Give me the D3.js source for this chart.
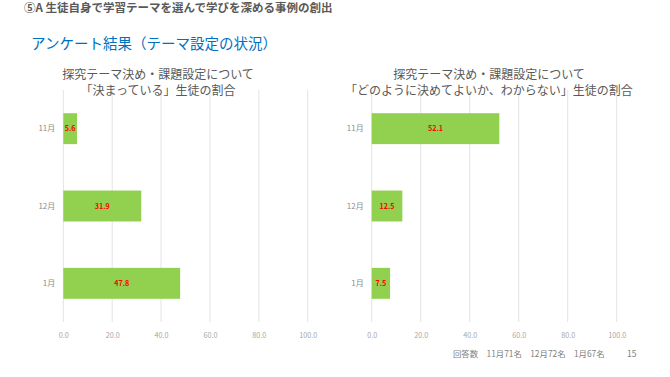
<!DOCTYPE html>
<html><head><meta charset="utf-8">
<script src="https://cdn.jsdelivr.net/npm/d3@7"></script>
<style>
body{margin:0;background:#fff;}
text{font-family:"Noto Sans CJK JP","Noto Sans",sans-serif;}
</style></head>
<body>
<svg id="c" width="670" height="377"></svg>
<script>
const categories = ["11月","12月","1月"];
const decidedValues = [5.6, 31.9, 47.8];
const unsureValues = [52.1, 12.5, 7.5];
const xTicks = [0, 20, 40, 60, 80, 100];
const headerText = "⑤A 生徒自身で学習テーマを選んで学びを深める事例の創出";
const subtitleText = "アンケート結果（テーマ設定の状況）";
const leftTitle = ["探究テーマ決め・課題設定について", "「決まっている」生徒の割合"];
const rightTitle = ["探究テーマ決め・課題設定について", "「どのように決めてよいか、わからない」生徒の割合"];
const footerText = "回答数　11月71名　12月72名　1月67名";
const pageNo = "15";

const svg = d3.select("#c");

svg.append("text").attr("x", 24).attr("y", 12).attr("font-size", 11.5).attr("font-weight", "bold")
  .attr("fill", "#595959").text(headerText);
svg.append("text").attr("x", 31).attr("y", 49).attr("font-size", 14.5)
  .attr("fill", "#0070C0").text(subtitleText);

function panel(x0, x1, titleCx, titleLines, values) {
  const y0 = 90, y1 = 322;
  const x = d3.scaleLinear().domain([0, 100]).range([x0, x1]);
  const y = d3.scaleBand().domain(categories).range([y0, y1]).paddingInner(0.6).paddingOuter(0.3);
  const g = svg.append("g");
  g.selectAll("line.grid").data(xTicks).join("line")
    .attr("x1", d => x(d)).attr("x2", d => x(d)).attr("y1", y0).attr("y2", y1)
    .attr("stroke", "#e3e3e3").attr("stroke-width", 1);
  titleLines.forEach((t, i) => {
    g.append("text").attr("x", titleCx).attr("y", 79 + i * 16).attr("text-anchor", "middle")
      .attr("font-size", 12).attr("fill", "#595959").text(t);
  });
  g.selectAll("rect").data(values).join("rect")
    .attr("x", x(0)).attr("y", (d, i) => y(categories[i]))
    .attr("width", d => x(d) - x(0)).attr("height", y.bandwidth())
    .attr("fill", "#92D050");
  g.selectAll("text.val").data(values).join("text").attr("class", "val")
    .attr("x", d => (x(0) + x(d)) / 2).attr("y", (d, i) => y(categories[i]) + y.bandwidth() / 2 + 2.5)
    .attr("text-anchor", "middle").attr("font-size", 7.2).attr("fill", "#FF0000")
    .attr("font-family", "DejaVu Sans Mono").attr("font-weight", "bold")
    .text(d => d.toFixed(1));
  const xa = g.append("g").attr("transform", `translate(0,${y1 + 3})`)
    .call(d3.axisBottom(x).tickValues(xTicks).tickFormat(d3.format(".1f")).tickSize(0).tickPadding(8));
  xa.select(".domain").remove();
  xa.selectAll("text").attr("font-size", 7.2).attr("fill", "#a6a6a6").attr("font-family", "DejaVu Sans Mono");
  const ya = g.append("g").attr("transform", `translate(${x0 - 8},0)`)
    .call(d3.axisLeft(y).tickSize(0).tickPadding(0));
  ya.select(".domain").remove();
  ya.selectAll("text").attr("font-size", 8).attr("fill", "#8c8c8c").attr("font-family", "Noto Sans CJK JP");
}

panel(63.3, 307.7, 158, leftTitle, decidedValues);
panel(371.7, 616.7, 489, rightTitle, unsureValues);

svg.append("text").attr("x", 453).attr("y", 357).attr("font-size", 8.4).attr("fill", "#7f7f7f").text(footerText);
svg.append("text").attr("x", 627).attr("y", 357).attr("font-size", 8.5).attr("fill", "#7f7f7f").text(pageNo);
</script>
</body></html>
